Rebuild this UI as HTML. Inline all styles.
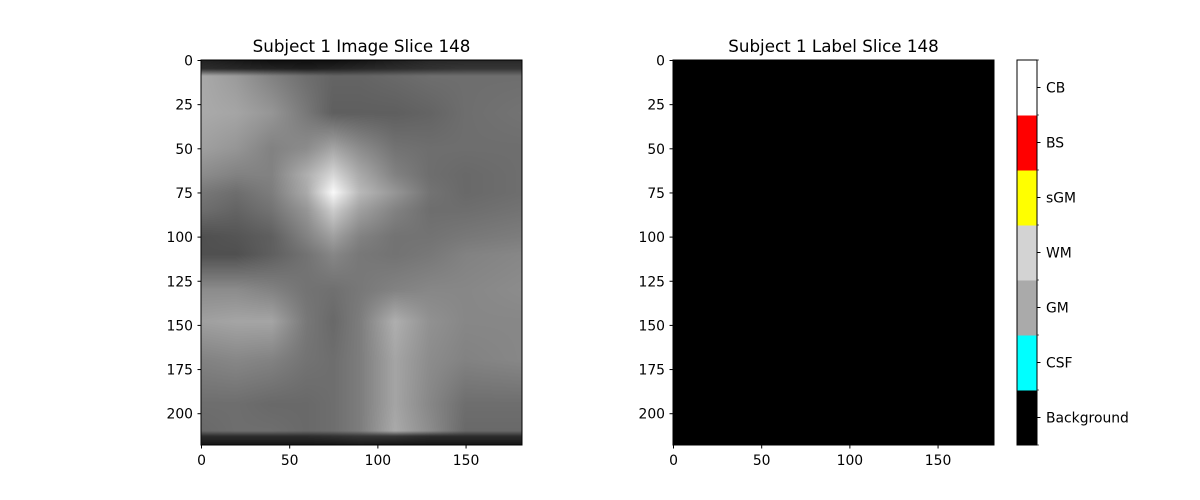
<!DOCTYPE html>
<html><head><meta charset="utf-8"><style>
body{margin:0;background:#fff;width:1200px;height:500px;overflow:hidden;font-family:"Liberation Sans","DejaVu Sans",sans-serif}
svg text{font-family:"DejaVu Sans","Liberation Sans",sans-serif;font-size:13.9px;fill:#000}
#img{position:absolute;left:201px;top:60px;width:321px;height:385px}
</style></head><body>
<canvas id="img" width="321" height="385"></canvas>
<svg id="chart" width="1200" height="500" style="position:absolute;left:0;top:0"></svg>
<script>
// grayscale intensity grid (data coords: col x 0..182, row y 0..218)
const colPos=[0,20,40,60,75,90,110,130,150,182];
const rowPos=[0,5,9,30,50,65,75,85,100,110,130,148,170,195,210,213,218];
const grid=[
[35,25,15,15,15,20,30,40,40,40],
[45,40,35,30,35,40,45,50,55,55],
[170,155,130,110,100,100,105,110,110,110],
[170,165,150,120,95,95,95,100,110,115],
[160,150,130,140,165,140,115,110,110,110],
[140,130,130,175,215,170,130,110,105,110],
[120,110,125,170,250,185,150,115,105,110],
[110,100,115,150,205,160,130,110,110,115],
[80,85,95,130,160,130,115,115,120,125],
[80,80,95,115,135,120,115,120,130,135],
[140,140,130,115,112,120,130,135,135,140],
[160,165,165,120,105,125,175,145,135,135],
[130,135,130,115,110,125,165,140,130,135],
[110,110,105,105,110,125,165,135,110,110],
[105,110,110,105,110,125,170,140,105,105],
[45,45,45,45,50,55,55,45,45,45],
[20,20,20,20,20,25,20,20,20,20]];
const xTicks=[0,50,100,150];
const yTicks=[0,25,50,75,100,125,150,175,200];
const classNames=["Background","CSF","GM","WM","sGM","BS","CB"];
const classColors=["#000000","#00ffff","#aaaaaa","#d3d3d3","#ffff00","#ff0000","#ffffff"];
const W=182,H=218;

(function(){
const c=document.getElementById('img'),ctx=c.getContext('2d');
const id=ctx.createImageData(c.width,c.height);
function seg(arr,v){let i=0;while(i<arr.length-2&&v>arr[i+1])i++;let t=(v-arr[i])/(arr[i+1]-arr[i]);return [i,Math.max(0,Math.min(1,t))];}
for(let py=0;py<c.height;py++){const dy=(py+0.5)/c.height*H;const [ri,rt]=seg(rowPos,dy);
for(let px=0;px<c.width;px++){const dx=(px+0.5)/c.width*W;const [ci,ct]=seg(colPos,dx);
const a=grid[ri][ci]*(1-ct)+grid[ri][ci+1]*ct,b=grid[ri+1][ci]*(1-ct)+grid[ri+1][ci+1]*ct;
const v=a*(1-rt)+b*rt;const k=(py*c.width+px)*4;id.data[k]=id.data[k+1]=id.data[k+2]=v;id.data[k+3]=255;}}
ctx.putImageData(id,0,0);})();

const svg=document.getElementById('chart');const NS='http://www.w3.org/2000/svg';
function el(t,a,txt){const e=document.createElementNS(NS,t);for(const k in a)e.setAttribute(k,a[k]);if(txt!==undefined)e.textContent=txt;svg.appendChild(e);return e;}
function panel(x0,name,title){
const y0=60,pw=321,ph=385;
const sx=v=>x0+0.5+v*pw/W, sy=v=>y0+0.5+v*ph/H;
if(name==='label'){const r=el('rect',{x:x0,y:y0,width:pw,height:ph,fill:'#000'});

}
const f=el('rect',{x:x0,y:y0,width:pw,height:ph,fill:'none',stroke:'#000','stroke-width':1});


const t=el('text',{x:x0+pw/2,y:y0-8,'text-anchor':'middle',style:'font-size:16.7px'},title);


xTicks.forEach(v=>{const x=sx(v);el('line',{x1:x,x2:x,y1:y0+ph,y2:y0+ph+3.5,stroke:'#000'});
const l=el('text',{x:x,y:y0+ph+20,'text-anchor':'middle'},v);

});
yTicks.forEach(v=>{const y=sy(v);el('line',{x1:x0-3.5,x2:x0,y1:y,y2:y,stroke:'#000'});
const l=el('text',{x:x0-8,y:y+5,'text-anchor':'end'},v);

});}
panel(201,'image','Subject 1 Image Slice 148');
panel(673,'label','Subject 1 Label Slice 148');

const cbx=1017,cby=60,cbw=20,cbh=385,n=classNames.length,sh=cbh/n;
classNames.forEach((nm,i)=>{const y=cby+cbh-(i+1)*sh;
const r=el('rect',{x:cbx,y:y,width:cbw,height:sh+0.5,fill:classColors[i]});


el('line',{x1:cbx+cbw,x2:cbx+cbw+3.5,y1:y+sh/2,y2:y+sh/2,stroke:'#000'});
const l=el('text',{x:cbx+cbw+9,y:y+sh/2+5},nm);

});
for(let i=0;i<=n;i++){const y=cby+i*sh;el('line',{x1:cbx+cbw,x2:cbx+cbw+2,y1:y,y2:y,stroke:'#000','stroke-width':0.6});}
const cf=el('rect',{x:cbx,y:cby,width:cbw,height:cbh,fill:'none',stroke:'#000'});


</script>
</body></html>
